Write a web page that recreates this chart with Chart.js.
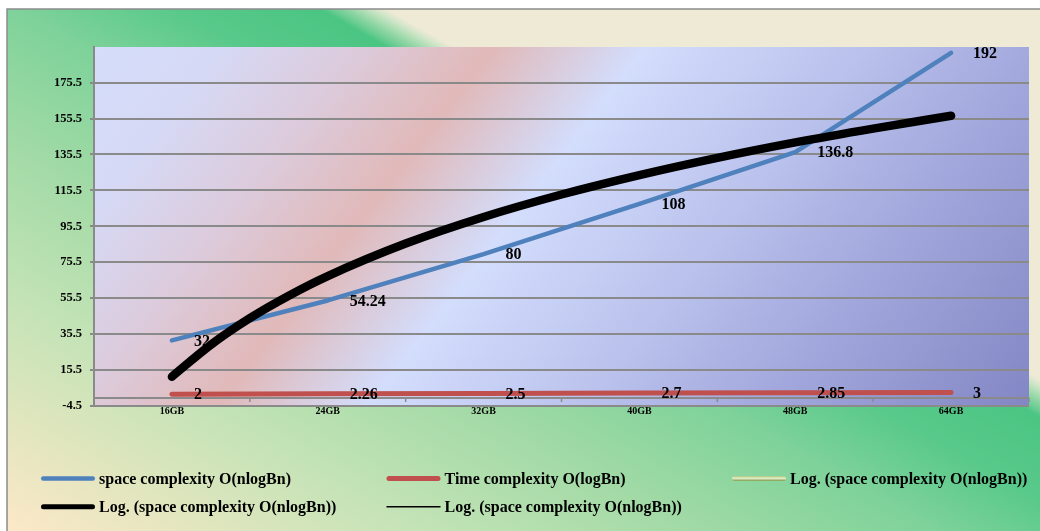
<!DOCTYPE html>
<html>
<head>
<meta charset="utf-8">
<script src="https://cdn.jsdelivr.net/npm/chart.js@4.4.1/dist/chart.umd.min.js"></script>
<style>
  html, body { margin: 0; padding: 0; background: #ffffff; }
  #wrap { width: 1040px; height: 531px; }
</style>
</head>
<body>
<div id="wrap"><canvas id="c" width="1040" height="531"></canvas></div>
<script>
// Memory sizes along the category axis
const categories = ['16GB', '24GB', '32GB', '40GB', '48GB', '64GB'];
// Series values
const spaceComplexity = [32, 54.24, 80, 108, 136.8, 192];
const timeComplexity = [2, 2.26, 2.5, 2.7, 2.85, 3];
// Logarithmic trend of the space series, sampled along the category index
const trendPositions = [0, 0.25, 0.5, 0.75, 1, 1.5, 2, 2.5, 3, 3.5, 4, 4.5, 5];
const spaceTrend = [11.8, 29.6, 44.4, 56.9, 67.8, 85.9, 100.7, 113.2, 124.0, 133.6, 142.2, 149.9, 157.0];
// Value-axis tick labels
const yTicks = [-4.5, 15.5, 35.5, 55.5, 75.5, 95.5, 115.5, 135.5, 155.5, 175.5];
// Series names
const seriesNames = ['space complexity O(nlogBn)', 'Time complexity O(logBn)', 'Log. (space complexity O(nlogBn))'];

const SERIF = '"Liberation Serif", "Times New Roman", serif';
const trendPoints = trendPositions.map((x, i) => ({ x, y: spaceTrend[i] }));

// Page and plot-area gradient fills
const backdrop = {
  id: 'backdrop',
  beforeDraw(chart) {
    const { ctx, width, height, chartArea: a } = chart;
    ctx.save();
    ctx.fillStyle = '#ffffff';
    ctx.fillRect(0, 0, width, height);

    const g = ctx.createLinearGradient(-226.8, 400.2, 98.6, -174);
    g.addColorStop(0.000, '#fde8c8');
    g.addColorStop(0.150, '#e2e6bf');
    g.addColorStop(0.318, '#c3e3b6');
    g.addColorStop(0.515, '#a2daa6');
    g.addColorStop(0.697, '#7ed29a');
    g.addColorStop(0.818, '#58c98a');
    g.addColorStop(0.924, '#4bc583');
    g.addColorStop(0.933, '#6ccd93');
    g.addColorStop(0.944, '#8ed5a3');
    g.addColorStop(0.955, '#b2dfb7');
    g.addColorStop(0.965, '#d4e6c9');
    g.addColorStop(0.974, '#efead6');
    g.addColorStop(1.000, '#efead6');
    ctx.fillStyle = g;
    ctx.fillRect(7, 9, width - 7, height - 9);

    ctx.strokeStyle = '#8c8c8c';
    ctx.lineWidth = 1.5;
    ctx.beginPath();
    ctx.moveTo(7, height);
    ctx.lineTo(7, 9);
    ctx.lineTo(width, 9);
    ctx.stroke();

    const p = ctx.createLinearGradient(79, 61, 838, 647);
    p.addColorStop(0.000, '#d4ddfb');
    p.addColorStop(0.110, '#d6d9f5');
    p.addColorStop(0.220, '#dccbdc');
    p.addColorStop(0.333, '#e1b9b9');
    p.addColorStop(0.458, '#d3ddfc');
    p.addColorStop(0.624, '#bcc4ee');
    p.addColorStop(0.780, '#a3a9dd');
    p.addColorStop(1.000, '#8387c5');
    ctx.fillStyle = p;
    ctx.fillRect(a.left, a.top, a.right - a.left, a.bottom - a.top);
    ctx.restore();
  }
};

// Category axis line crossing the value axis at zero
const zeroAxis = {
  id: 'zeroAxis',
  beforeDatasetsDraw(chart) {
    const { ctx, chartArea: a, scales: { x, y } } = chart;
    const y0 = y.getPixelForValue(0);
    ctx.save();
    ctx.strokeStyle = '#8a8a8a';
    ctx.lineWidth = 2;
    ctx.beginPath();
    ctx.moveTo(a.left, y0);
    ctx.lineTo(a.right, y0);
    ctx.stroke();
    ctx.lineWidth = 1.5;
    ctx.beginPath();
    for (let i = 1; i <= categories.length; i++) {
      const bx = i < categories.length
        ? (x.getPixelForValue(i - 1) + x.getPixelForValue(i)) / 2
        : a.right;
      ctx.moveTo(bx, y0);
      ctx.lineTo(bx, y0 + 4);
    }
    ctx.stroke();
    ctx.restore();
  }
};

// Value labels to the right of each point
const valueLabels = {
  id: 'valueLabels',
  afterDatasetDraw(chart, args) {
    const ds = chart.data.datasets[args.index];
    if (!ds.showValues) return;
    const ctx = chart.ctx;
    ctx.save();
    ctx.font = 'bold 16px ' + SERIF;
    ctx.fillStyle = '#000000';
    ctx.textAlign = 'left';
    ctx.textBaseline = 'middle';
    args.meta.data.forEach((pt, j) => {
      ctx.fillText(String(ds.data[j]), pt.x + 22, pt.y + 1);
    });
    ctx.restore();
  }
};

// Legend laid out in a three-column grid under the plot
const legendGrid = {
  id: 'legendGrid',
  afterDraw(chart) {
    const ctx = chart.ctx;
    chart.data.datasets.forEach((ds, i) => {
      const col = i % 3, row = Math.floor(i / 3);
      const x0 = 41 + col * 345.5;
      const yLine = 478.5 + row * 28.3;
      const lw = Math.min(ds.borderWidth, 5);
      ctx.save();
      ctx.lineCap = lw > 2 ? 'round' : 'butt';
      ctx.lineWidth = lw;
      if (ds.legendSheen) {
        const g = ctx.createLinearGradient(0, yLine - lw / 2, 0, yLine + lw / 2);
        g.addColorStop(0, '#a9c97a');
        g.addColorStop(0.45, '#e8efd0');
        g.addColorStop(1, '#7e9c4b');
        ctx.strokeStyle = g;
      } else {
        ctx.strokeStyle = ds.borderColor;
      }
      ctx.beginPath();
      ctx.moveTo(x0 + (lw > 2 ? lw / 2 : 0), yLine);
      ctx.lineTo(x0 + 54 - (lw > 2 ? lw / 2 : 0), yLine);
      ctx.stroke();
      ctx.fillStyle = '#000000';
      ctx.font = 'bold 16px ' + SERIF;
      ctx.textAlign = 'left';
      ctx.textBaseline = 'alphabetic';
      ctx.fillText(ds.label, x0 + 58, yLine + 5.2);
      ctx.restore();
    });
  }
};

const lineCommon = {
  pointRadius: 0,
  pointHoverRadius: 0,
  fill: false,
  borderCapStyle: 'round',
  borderJoinStyle: 'round'
};

new Chart(document.getElementById('c'), {
  type: 'line',
  data: {
    labels: categories,
    datasets: [
      { ...lineCommon, label: seriesNames[0], data: spaceComplexity, borderColor: '#4f81bd', borderWidth: 4.5, tension: 0, showValues: true, order: 1 },
      { ...lineCommon, label: seriesNames[1], data: timeComplexity, borderColor: '#c0504d', borderWidth: 5, tension: 0, showValues: true, order: 2 },
      { ...lineCommon, label: seriesNames[2], data: trendPoints, xAxisID: 'xt', borderColor: '#9bbb59', borderWidth: 5, cubicInterpolationMode: 'monotone', legendSheen: true, order: 4 },
      { ...lineCommon, label: seriesNames[2], data: trendPoints, xAxisID: 'xt', borderColor: '#000000', borderWidth: 8.5, cubicInterpolationMode: 'monotone', order: 0 },
      { ...lineCommon, label: seriesNames[2], data: trendPoints, xAxisID: 'xt', borderColor: '#000000', borderWidth: 1.5, cubicInterpolationMode: 'monotone', order: 3 }
    ]
  },
  options: {
    responsive: false,
    animation: false,
    devicePixelRatio: 1,
    events: [],
    layout: { padding: { top: 47, right: 11, bottom: 0, left: 0 } },
    scales: {
      x: {
        type: 'category',
        offset: true,
        grid: { display: false, drawTicks: false },
        border: { display: false },
        ticks: { color: '#000000', font: { family: SERIF, size: 10, weight: 'bold' }, padding: -1, maxRotation: 0 },
        afterFit(s) { s.height = 125; }
      },
      xt: {
        type: 'linear',
        min: -0.5,
        max: categories.length - 0.5,
        display: false
      },
      y: {
        min: -4.5,
        max: 195.3,
        afterBuildTicks(s) { s.ticks = yTicks.map(v => ({ value: v })); },
        grid: { color: '#8a8a8a', lineWidth: 2, drawTicks: true, tickLength: 4 },
        border: { display: true, color: '#8a8a8a', width: 2 },
        ticks: {
          color: '#000000',
          font: { family: SERIF, size: 12.5, weight: 'bold' },
          padding: 8,
          callback: v => String(v)
        },
        afterFit(s) { s.width = 94; }
      }
    },
    plugins: {
      legend: { display: false },
      tooltip: { enabled: false }
    }
  },
  plugins: [backdrop, zeroAxis, valueLabels, legendGrid]
});
</script>
</body>
</html>
